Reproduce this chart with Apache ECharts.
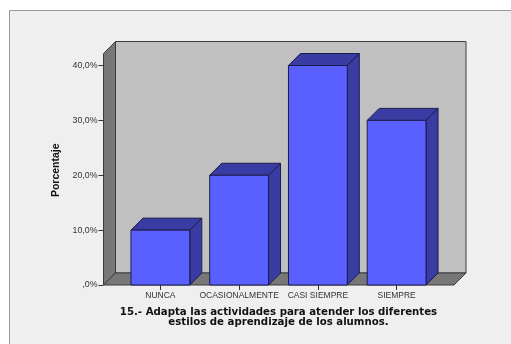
<!DOCTYPE html>
<html><head><meta charset="utf-8">
<style>html,body{margin:0;padding:0;background:#fff}#c{width:511px;height:344px}</style>
<script src="https://cdn.jsdelivr.net/npm/echarts@6/dist/echarts.min.js"></script>
</head><body><div id="c"></div>
<script>
const categories = ['NUNCA', 'OCASIONALMENTE', 'CASI SIEMPRE', 'SIEMPRE'];
const percentages = [10, 20, 40, 30];
const yTicks = [0, 10, 20, 30, 40];
const xTitle = '15.- Adapta las actividades para atender los diferentes\nestilos de aprendizaje de los alumnos.';
const yTitle = 'Porcentaje';

const DEPTH = 12, PAD_L = 17.5, PAD_R = 18, TOP_EXTRA = 12;
const chart = echarts.init(document.getElementById('c'), null, {renderer: 'canvas'});

function walls(params, api) {
  const cs = params.coordSys;
  const l = cs.x - PAD_L, r = cs.x + cs.width + PAD_R;
  const b = cs.y + cs.height, t = cs.y - TOP_EXTRA;
  const d = DEPTH;
  const edge = {stroke: '#3c3c3c', lineWidth: 1};
  const poly = (pts, fill) => ({type: 'polygon', shape: {points: pts}, style: {fill, ...edge}});
  return {type: 'group', children: [
    poly([[l + d, t - d], [r + d, t - d], [r + d, b - d], [l + d, b - d]], '#c0c0c0'),
    poly([[l, t], [l + d, t - d], [l + d, b - d], [l, b]], '#777777'),
    poly([[l, b], [l + d, b - d], [r + d, b - d], [r, b]], '#777777')
  ]};
}

function bar3d(params, api) {
  const x = api.coord([api.value(0), 0])[0];
  const top = api.coord([api.value(0), api.value(1)])[1];
  const base = api.coord([api.value(0), 0])[1];
  const w = api.size([1, 0])[0] * 0.747;
  const l = x - w / 2, r = x + w / 2, d = DEPTH;
  const edge = {stroke: '#1c1c4a', lineWidth: 1};
  const poly = (pts, fill) => ({type: 'polygon', shape: {points: pts}, style: {fill, ...edge}});
  return {type: 'group', children: [
    poly([[r, top], [r + d, top - d], [r + d, base - d], [r, base]], '#393ca3'),
    poly([[l, top], [l + d, top - d], [r + d, top - d], [r, top]], '#393ca3'),
    poly([[l, top], [r, top], [r, base], [l, base]], '#5a60ff')
  ]};
}

chart.setOption({
  animation: false,
  backgroundColor: '#ffffff',
  graphic: [{type: 'rect', z: -10, shape: {x: 9.5, y: 10.5, width: 510, height: 340},
    style: {fill: '#efefef', stroke: '#999999', lineWidth: 1}}],
  grid: {left: 121, top: 65.5, width: 315, height: 219.5, containLabel: false},
  xAxis: {
    type: 'category', data: categories,
    axisLine: {show: false},
    axisTick: {show: true, alignWithLabel: true, length: 5, lineStyle: {color: '#333'}},
    axisLabel: {interval: 0, color: '#333', fontSize: 8.5, fontFamily: 'Liberation Sans', margin: 6},
    name: xTitle, nameLocation: 'middle', nameGap: 22,
    nameTextStyle: {color: '#111', fontSize: 10.2, fontWeight: 'bold', fontFamily: 'DejaVu Sans', lineHeight: 10.5, align: 'center', verticalAlign: 'top'}
  },
  yAxis: {
    type: 'value', min: 0, max: 40, interval: 10, offset: PAD_L,
    axisLine: {show: false},
    axisTick: {show: true, length: 5, lineStyle: {color: '#333'}},
    splitLine: {show: false},
    axisLabel: {color: '#333', fontSize: 8.8, fontFamily: 'Liberation Sans', margin: 6, padding: [2, 0, 0, 0],
      formatter: v => (v === yTicks[0] ? ',0%' : v.toFixed(1).replace('.', ',') + '%')},
    name: yTitle, nameLocation: 'middle', nameGap: 40, nameRotate: 90,
    nameTextStyle: {color: '#111', fontSize: 10.5, fontWeight: 'bold', fontFamily: 'Liberation Sans', padding: [0, 0, 0, 10]}
  },
  series: [
    {type: 'custom', renderItem: walls, data: [[0, 0]], clip: false, silent: true, z: 1},
    {type: 'custom', renderItem: bar3d, clip: false, z: 2,
      encode: {x: 0, y: 1},
      data: percentages.map((v, i) => [i, v])}
  ]
});
</script></body></html>
